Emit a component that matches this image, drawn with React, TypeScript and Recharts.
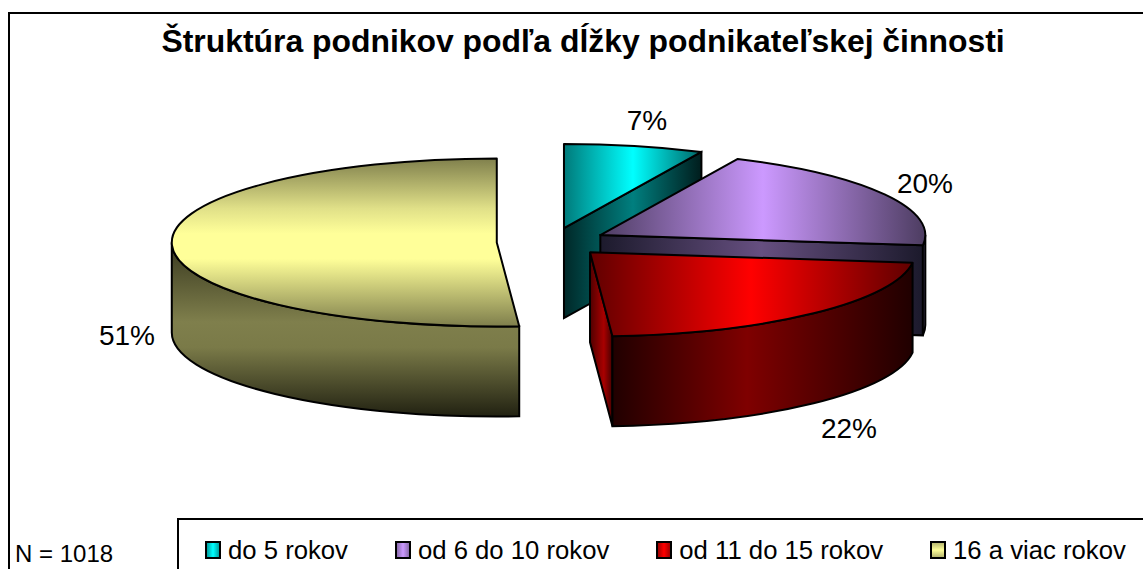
import { PieChart, Pie, Legend } from "recharts";

const categories = ["do 5 rokov", "od 6 do 10 rokov", "od 11 do 15 rokov", "16 a viac rokov"];
const shares = [6.95, 20, 21.95, 51.1];
const labels = ["7%", "20%", "22%", "51%"];
const swatches = [
  "linear-gradient(90deg,#00a0a0,#00ffff,#00a0a0)",
  "linear-gradient(90deg,#8a6cac,#cc99ff,#8a6cac)",
  "linear-gradient(90deg,#a00000,#ff0000,#a00000)",
  "linear-gradient(180deg,#b8b870,#ffff99,#b8b870)",
];

const data = categories.map((name, i) => ({ name, value: shares[i] }));

const WIDTH = 1143;
const HEIGHT = 569;
const SQUASH = 0.2585;
const DEPTH = 90;
const EXPLODE = 0.17;
const FONT = "'Liberation Sans', Arial, sans-serif";

// label anchors around the exploded slices
const labelPos = [
  { x: 647, y: 130 },
  { x: 925, y: 193 },
  { x: 849, y: 438 },
  { x: 127, y: 345 },
];

const rad = (d: number) => (d * Math.PI) / 180;

function Slice(props: any) {
  const { cx, cy, outerRadius, startAngle, endAngle, index } = props;
  const rx = outerRadius;
  const ry = outerRadius * SQUASH;
  // clockwise from 12 o'clock
  const a0 = 90 - startAngle;
  const a1 = 90 - endAngle;
  const mid = (a0 + a1) / 2;
  const ox = cx + rx * EXPLODE * Math.sin(rad(mid));
  const oy = cy - ry * EXPLODE * Math.cos(rad(mid));
  const pt = (a: number, dy = 0) => ({
    x: ox + rx * Math.sin(rad(a)),
    y: oy - ry * Math.cos(rad(a)) + dy,
  });
  const p0 = pt(a0);
  const p1 = pt(a1);
  const large = a1 - a0 > 180 ? 1 : 0;
  const top = `M${ox},${oy} L${p0.x},${p0.y} A${rx},${ry} 0 ${large} 1 ${p1.x},${p1.y} Z`;

  // side faces that point at the viewer
  const m = pt(mid);
  const walls = [a0, a1].filter((a) => {
    const p = pt(a);
    const vx = p.x - ox;
    const vy = p.y - oy;
    const c1 = vx;
    const c2 = vx * (m.y - oy) - vy * (m.x - ox);
    return Math.abs(c1) > 0.5 && Math.sign(c1) !== Math.sign(c2);
  });

  const w0 = Math.max(a0, 90);
  const w1 = Math.min(a1, 270);
  let outer = null;
  if (w1 > w0) {
    const s = pt(w0);
    const e = pt(w1);
    const big = w1 - w0 > 180 ? 1 : 0;
    outer = (
      <path
        d={`M${s.x},${s.y} A${rx},${ry} 0 ${big} 1 ${e.x},${e.y} L${e.x},${e.y + DEPTH} A${rx},${ry} 0 ${big} 0 ${s.x},${s.y + DEPTH} Z`}
        fill={`url(#outer${index})`}
        stroke="#000"
        strokeWidth={2}
      />
    );
  }

  return (
    <g>
      {walls.map((a) => {
        const p = pt(a);
        return (
          <path
            key={a}
            d={`M${ox},${oy} L${p.x},${p.y} L${p.x},${p.y + DEPTH} L${ox},${oy + DEPTH} Z`}
            fill={`url(#wall${index})`}
            stroke="#000"
            strokeWidth={2}
          />
        );
      })}
      {outer}
      <path d={top} fill={`url(#top${index})`} stroke="#000" strokeWidth={2} strokeLinejoin="round" />
    </g>
  );
}

function Grad({ id, x1, x2, y1, y2, stops }: any) {
  return (
    <linearGradient id={id} gradientUnits="userSpaceOnUse" x1={x1 ?? 0} x2={x2 ?? 0} y1={y1 ?? 0} y2={y2 ?? 0}>
      {stops.map(([o, c]: [number, string]) => (
        <stop key={o} offset={o} stopColor={c} />
      ))}
    </linearGradient>
  );
}

function LegendBox({ payload }: any) {
  const items = payload && payload.length ? payload : categories.map((value) => ({ value }));
  return (
    <div style={{ display: "flex", alignItems: "center", gap: 47, height: 60, paddingLeft: 26, fontFamily: FONT, fontSize: 25.7 }}>
      {items.map((it: any, i: number) => (
        <div key={it.value} style={{ display: "flex", alignItems: "center", gap: 7, whiteSpace: "nowrap" }}>
          <span style={{ display: "block", width: 12, height: 14, border: "2px solid #000", background: swatches[i] }} />
          <span>{it.value}</span>
        </div>
      ))}
    </div>
  );
}

export default function App() {
  return (
    <div style={{ position: "absolute", left: 0, top: 0, width: WIDTH, height: HEIGHT, background: "#fff", overflow: "hidden" }}>
      <div style={{ position: "absolute", left: 8, top: 12, width: 1140, height: 570, border: "2px solid #000" }} />
      <PieChart width={WIDTH} height={HEIGHT} margin={{ top: 0, right: 0, bottom: 0, left: 0 }} style={{ position: "absolute", left: 0, top: 0 }}>
        <defs>
          <Grad id="top0" x1={564} x2={702} stops={[[0, "#007a7a"], [0.5, "#00ffff"], [1, "#006464"]]} />
          <Grad id="wall0" x1={564} x2={702} stops={[[0, "#002828"], [0.5, "#007f7f"], [1, "#001c1c"]]} />
          <Grad id="top1" x1={600} x2={926} stops={[[0, "#4c3c60"], [0.5, "#cc99ff"], [1, "#4c3c60"]]} />
          <Grad id="wall1" x1={600} x2={922} stops={[[0, "#1c1a2c"], [0.5, "#664f80"], [1, "#1c1a2c"]]} />
          <Grad id="outer1" x1={916} x2={926} stops={[[0, "#1c1a2c"], [0.5, "#8a78a8"], [1, "#2c2840"]]} />
          <Grad id="top2" x1={590} x2={912} stops={[[0, "#600000"], [0.5, "#ff0000"], [1, "#600000"]]} />
          <Grad id="wall2" x1={590} x2={613} stops={[[0, "#500000"], [0.6, "#a80000"], [1, "#400000"]]} />
          <Grad id="outer2" x1={612} x2={912} stops={[[0, "#200000"], [0.45, "#7f0000"], [1, "#200000"]]} />
          <Grad id="top3" y1={158} y2={326} stops={[[0, "#7f7f4c"], [0.3, "#e0e088"], [0.45, "#ffff99"], [0.6, "#ffff99"], [1, "#7f7f4c"]]} />
          <Grad id="wall3" y1={158} y2={326} stops={[[0, "#7f7f4c"], [1, "#7f7f4c"]]} />
          <Grad id="outer3" y1={245} y2={416} stops={[[0, "#3a3a20"], [0.45, "#7f7f4c"], [0.6, "#7a7a48"], [1, "#222212"]]} />
        </defs>
        <text x={583} y={52} textAnchor="middle" fontFamily={FONT} fontWeight="bold" fontSize={31.9}>
          Štruktúra podnikov podľa dĺžky podnikateľskej činnosti
        </text>
        <Pie
          data={data}
          dataKey="value"
          nameKey="name"
          cx={552}
          cy={242}
          startAngle={90}
          endAngle={-270}
          outerRadius={325}
          isAnimationActive={false}
          shape={Slice}
          stroke="none"
        />
        {labels.map((t, i) => (
          <text key={t} x={labelPos[i].x} y={labelPos[i].y} textAnchor="middle" fontFamily={FONT} fontSize={28}>
            {t}
          </text>
        ))}
        <text x={15} y={562} fontFamily={FONT} fontSize={24}>N = 1018</text>
        <Legend
          content={<LegendBox />}
          itemSorter={null}
          layout="horizontal"
          verticalAlign="bottom"
          wrapperStyle={{ position: "absolute", left: 177, top: 518, width: 980, height: 60, border: "2px solid #000", background: "#fff", boxSizing: "border-box" }}
        />
      </PieChart>
    </div>
  );
}
